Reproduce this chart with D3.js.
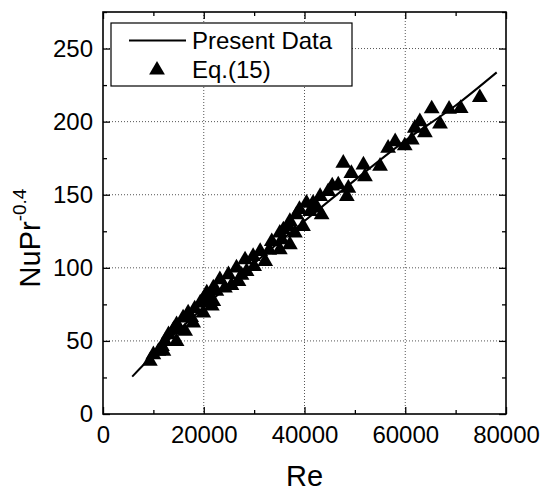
<!DOCTYPE html>
<html>
<head>
<meta charset="utf-8"/>
<title>NuPr vs Re</title>
<script src="https://d3js.org/d3.v7.min.js"></script>
<style>
  body { margin: 0; background: #fff; }
  text { font-family: "Liberation Sans", Arial, sans-serif; fill: #000; }
</style>
</head>
<body>
<svg width="542" height="493"></svg>
<script>
// values
var reVals = [74800, 71000, 68700, 65250, 66900, 62900, 63900, 61900, 61300, 59900,
  58000, 56600, 55000, 51700, 52000, 49300, 47700, 46700, 48700, 48400,
  44700, 43100, 41700, 40400, 41100, 43400, 38400, 37100, 39700, 35800,
  38100, 35500, 37100, 36800, 35100, 33500, 35100, 31200, 29800, 32200,
  28200, 26500, 28500, 24900, 23200, 26900, 21900, 24200, 20600, 19900,
  21900, 20900, 19300, 21600, 19900, 16900, 15900, 17900, 14600, 14000,
  16300, 13000, 12300, 14600, 11700, 11000, 12000, 10000, 9300,
  45500, 42500, 39000, 33000, 30000, 27500, 18200, 17500, 15200, 22500, 25500];
var nuVals = [216.5, 209, 208.5, 208.8, 198.5, 200, 192.5, 195.5, 187.5, 183.5,
  186.3, 181.8, 169.5, 170.4, 162.4, 164.6, 171.6, 156.8, 154.5, 148.8,
  152.2, 148.8, 144.3, 144.3, 138.5, 136.3, 136.3, 131.7, 128.3, 126,
  123.8, 119.2, 115.8, 128.3, 123.8, 118, 112.4, 111.2, 107.8, 104.4,
  105.5, 99.9, 97.5, 95.3, 91.9, 90.7, 86.2, 86.2, 82.8, 78.2,
  77, 80.5, 76, 74, 69.1, 69.1, 65.7, 62.3, 61.1, 57.7,
  56.6, 54.3, 49.7, 49.7, 46.3, 42.9, 42.9, 40.6, 36.2,
  156, 141, 140, 112, 101, 95, 72, 66, 58, 84, 88];

// fitted "present data" curve
var lineRe = [5800, 10000, 20000, 30000, 40000, 50000, 60000, 70000, 78150];
var lineNu = [25.6, 40.5, 73, 103, 132, 160, 187, 211, 233.7];

var xTicks = [0, 20000, 40000, 60000, 80000];
var xMinor = [10000, 30000, 50000, 70000];
var yTicks = [0, 50, 100, 150, 200, 250];
var yMinor = [25, 75, 125, 175, 225, 275];

var pL = 103, pR = 506, pT = 12, pB = 414;

var svg = d3.select("svg");
var x = d3.scaleLinear().domain([0, 80000]).range([pL, pR]);
var y = d3.scaleLinear().domain([0, 275]).range([pB, pT]);

// grid
var grid = svg.append("g")
  .attr("stroke", "#555").attr("stroke-width", 1).attr("stroke-dasharray", "1,2");
grid.selectAll(".gx").data(xTicks.slice(1, -1)).enter().append("line")
  .attr("x1", d => x(d)).attr("x2", d => x(d)).attr("y1", pT).attr("y2", pB);
grid.selectAll(".gy").data(yTicks.slice(1)).enter().append("line")
  .attr("y1", d => y(d)).attr("y2", d => y(d)).attr("x1", pL).attr("x2", pR);

// axes, ticks inward on all sides
function styleAxis(g) {
  g.select(".domain").remove();
  g.selectAll(".tick line").attr("stroke", "#000").attr("stroke-width", 1.3);
  g.selectAll(".tick text").style("font-size", "24px").style("font-family", "'Liberation Sans', Arial, sans-serif");
}
svg.append("g").attr("transform", "translate(0," + pB + ")")
  .call(d3.axisBottom(x).tickValues(xTicks).tickFormat(d3.format("d")).tickSizeInner(-7).tickSizeOuter(0).tickPadding(12))
  .call(styleAxis);
svg.append("g").attr("transform", "translate(0," + pB + ")")
  .call(d3.axisBottom(x).tickValues(xMinor).tickFormat("").tickSizeInner(-4).tickSizeOuter(0))
  .call(styleAxis);
svg.append("g").attr("transform", "translate(0," + pT + ")")
  .call(d3.axisTop(x).tickValues(xTicks).tickFormat("").tickSizeInner(-7).tickSizeOuter(0))
  .call(styleAxis);
svg.append("g").attr("transform", "translate(0," + pT + ")")
  .call(d3.axisTop(x).tickValues(xMinor).tickFormat("").tickSizeInner(-4).tickSizeOuter(0))
  .call(styleAxis);
svg.append("g").attr("transform", "translate(" + pL + ",0)")
  .call(d3.axisLeft(y).tickValues(yTicks).tickSizeInner(-7).tickSizeOuter(0).tickPadding(10))
  .call(styleAxis);
svg.append("g").attr("transform", "translate(" + pL + ",0)")
  .call(d3.axisLeft(y).tickValues(yMinor).tickFormat("").tickSizeInner(-4).tickSizeOuter(0))
  .call(styleAxis);
svg.append("g").attr("transform", "translate(" + pR + ",0)")
  .call(d3.axisRight(y).tickValues(yTicks).tickFormat("").tickSizeInner(-7).tickSizeOuter(0))
  .call(styleAxis);
svg.append("g").attr("transform", "translate(" + pR + ",0)")
  .call(d3.axisRight(y).tickValues(yMinor).tickFormat("").tickSizeInner(-4).tickSizeOuter(0))
  .call(styleAxis);

// frame
svg.append("rect").attr("x", pL).attr("y", pT)
  .attr("width", pR - pL).attr("height", pB - pT)
  .attr("fill", "none").attr("stroke", "#000").attr("stroke-width", 1.6);

// fitted line
var line = d3.line().x((d, i) => x(lineRe[i])).y(d => y(d)).curve(d3.curveMonotoneX);
svg.append("path").datum(lineNu).attr("d", line)
  .attr("fill", "none").attr("stroke", "#000").attr("stroke-width", 2);

// triangles
var tri = d3.symbol().type(d3.symbolTriangle).size(108);
svg.append("g").selectAll("path").data(reVals).enter().append("path")
  .attr("d", tri)
  .attr("transform", (d, i) => "translate(" + x(d) + "," + y(nuVals[i]) + ")")
  .attr("fill", "#000");

// legend
var leg = svg.append("g");
leg.append("rect").attr("x", 111).attr("y", 23).attr("width", 241).attr("height", 63)
  .attr("fill", "#fff").attr("stroke", "#000").attr("stroke-width", 1.2);
leg.append("line").attr("x1", 129).attr("x2", 186).attr("y1", 40.5).attr("y2", 40.5)
  .attr("stroke", "#000").attr("stroke-width", 2);
leg.append("path").attr("d", tri).attr("transform", "translate(157,70)").attr("fill", "#000");
leg.append("text").attr("x", 192).attr("y", 48.5).style("font-size", "24px").text("Present Data");
leg.append("text").attr("x", 192).attr("y", 77.5).style("font-size", "24px").text("Eq.(15)");

// axis titles
svg.append("text").attr("x", (pL + pR) / 2).attr("y", 486)
  .attr("text-anchor", "middle").style("font-size", "29px").text("Re");
var yt = svg.append("text").attr("transform", "translate(40,238) rotate(-90)")
  .attr("text-anchor", "middle").style("font-size", "29px");
yt.append("tspan").text("NuPr");
yt.append("tspan").attr("dy", -14).style("font-size", "19px").text("-0.4");
</script>
</body>
</html>
